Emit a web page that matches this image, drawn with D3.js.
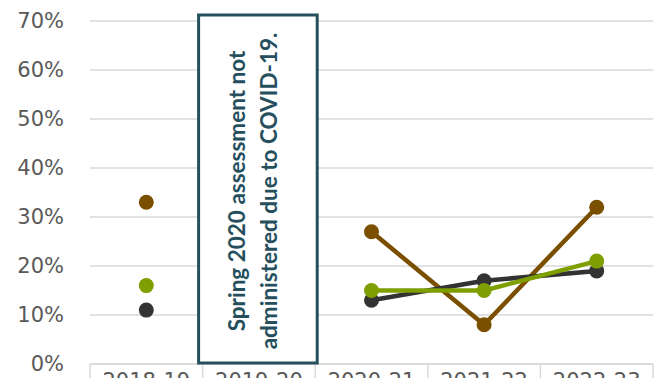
<!DOCTYPE html>
<html>
<head>
<meta charset="utf-8">
<script src="https://cdn.jsdelivr.net/npm/d3@7"></script>
<style>
  html, body { margin: 0; padding: 0; background: #fff; }
  svg { display: block; }
</style>
</head>
<body>
<svg id="chart" width="660" height="378"></svg>
<script>
// School years shown along the bottom
const years = ["2018-19", "2019-20", "2020-21", "2021-22", "2022-23"];

// Percent of students in each group (null = no assessment that year)
const seriesBrown = [0.33, null, 0.27, 0.08, 0.32];
const seriesDark  = [0.11, null, 0.13, 0.17, 0.19];
const seriesGreen = [0.16, null, 0.15, 0.15, 0.21];

// Value-axis ticks
const yTicks = [0, 0.1, 0.2, 0.3, 0.4, 0.5, 0.6, 0.7];

// Note over the missing year
const noteYear = "2019-20";
const noteLines = ["Spring 2020 assessment not", "administered due to COVID-19."];

const series = [
  { values: seriesBrown, color: "#7a5000" },
  { values: seriesDark,  color: "#333333" },
  { values: seriesGreen, color: "#7f9f00" }
];

const svg = d3.select("#chart");
const plotLeft = 90, plotRight = 653, plotTop = 21, plotBottom = 364;

const x = d3.scaleBand().domain(years).range([plotLeft, plotRight]).padding(0);
const y = d3.scaleLinear().domain([0, 0.7]).range([plotBottom, plotTop]);
const cx = d => x(d) + x.bandwidth() / 2;

// Horizontal gridlines
svg.append("g")
  .selectAll("line")
  .data(yTicks)
  .join("line")
  .attr("x1", plotLeft).attr("x2", plotRight)
  .attr("y1", d => y(d)).attr("y2", d => y(d))
  .attr("stroke", "#d9d9d9")
  .attr("stroke-width", 1.5);

// Value axis labels
const yAxis = d3.axisLeft(y)
  .tickValues(yTicks)
  .tickFormat(d3.format(".0%"))
  .tickSize(0)
  .tickPadding(0);
const gy = svg.append("g").attr("transform", "translate(64,0)").call(yAxis);
gy.select(".domain").remove();
gy.selectAll("text")
  .attr("font-family", "DejaVu Sans, sans-serif")
  .attr("font-size", 21)
  .attr("fill", "#595959");

// Category table along the bottom (labels run past the lower edge)
const table = svg.append("g");
table.append("line")
  .attr("x1", plotLeft).attr("x2", plotRight)
  .attr("y1", plotBottom).attr("y2", plotBottom)
  .attr("stroke", "#d9d9d9").attr("stroke-width", 1.5);
table.selectAll("line.sep")
  .data(years.map(d => x(d)).concat([plotRight]))
  .join("line")
  .attr("class", "sep")
  .attr("x1", d => d).attr("x2", d => d)
  .attr("y1", plotBottom).attr("y2", 400)
  .attr("stroke", "#d9d9d9").attr("stroke-width", 1.5);
table.selectAll("text")
  .data(years)
  .join("text")
  .attr("x", d => cx(d))
  .attr("y", 388)
  .attr("text-anchor", "middle")
  .attr("font-family", "DejaVu Sans, sans-serif")
  .attr("font-size", 21)
  .attr("fill", "#595959")
  .text(d => d);

// Lines and markers for each group
const line = d3.line()
  .defined(d => d.v != null)
  .x(d => cx(d.year))
  .y(d => y(d.v));

series.forEach(s => {
  const pts = years.map((year, i) => ({ year, v: s.values[i] }));
  svg.append("path")
    .datum(pts)
    .attr("fill", "none")
    .attr("stroke", s.color)
    .attr("stroke-width", 4.5)
    .attr("stroke-linejoin", "round")
    .attr("d", line);
  svg.append("g")
    .selectAll("circle")
    .data(pts.filter(p => p.v != null))
    .join("circle")
    .attr("cx", p => cx(p.year))
    .attr("cy", p => y(p.v))
    .attr("r", 7.5)
    .attr("fill", s.color);
});

// Note box covering the missing year
const bx0 = x(noteYear) - 4, bx1 = x(noteYear) + x.bandwidth() + 2;
const by0 = 15, by1 = 363;
svg.append("rect")
  .attr("x", bx0).attr("y", by0)
  .attr("width", bx1 - bx0).attr("height", by1 - by0)
  .attr("fill", "#ffffff")
  .attr("stroke", "#264f5e")
  .attr("stroke-width", 3);

const midY = (by0 + by1) / 2 + 2;
const baselines = [245, 277];
svg.append("g")
  .selectAll("text")
  .data(noteLines)
  .join("text")
  .attr("transform", (d, i) => `translate(${baselines[i]},${midY}) rotate(-90)`)
  .attr("text-anchor", "middle")
  .attr("font-family", "Lato, sans-serif")
  .attr("font-weight", 700)
  .attr("font-size", 22.5)
  .attr("fill", "#264f5e")
  .text(d => d);
</script>
</body>
</html>
